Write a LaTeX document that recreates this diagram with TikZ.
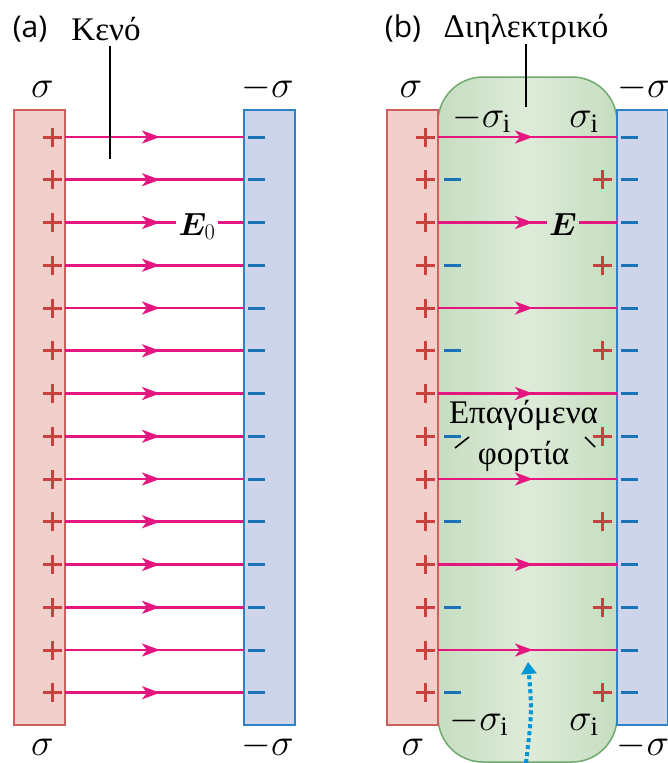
\RequirePackage{fix-cm}
\documentclass[tikz,border=0pt]{standalone}
\usepackage{bm}
\usepackage{fontspec}
\setmainfont{Liberation Serif}
\newfontfamily\panelfont{Open Sans}
\usetikzlibrary{arrows.meta,decorations.markings}

\definecolor{plusfill}{RGB}{241,208,203}
\definecolor{plusedge}{RGB}{205,95,95}
\definecolor{minusfill}{RGB}{206,213,235}
\definecolor{minusedge}{RGB}{45,130,200}
\definecolor{fieldcol}{RGB}{228,22,128}
\definecolor{pluscol}{RGB}{200,65,65}
\definecolor{minuscol}{RGB}{25,115,185}
\definecolor{dielfill}{RGB}{198,221,192}
\definecolor{diellight}{RGB}{222,235,217}
\definecolor{dieledge}{RGB}{110,170,110}
\definecolor{probecol}{RGB}{0,150,210}

\begin{document}
\begin{tikzpicture}[
  x=1pt, y=-1pt,
  plateplus/.style={draw=plusedge, fill=plusfill, line width=1.5pt, minimum width=51pt, minimum height=615pt, inner sep=0pt},
  plateminus/.style={draw=minusedge, fill=minusfill, line width=1.5pt, minimum width=51pt, minimum height=615pt, inner sep=0pt},
  dielectric/.style={draw=dieledge, line width=1.5pt, rounded corners=45pt, left color=dielfill, right color=dielfill, middle color=diellight, minimum width=179pt, minimum height=685pt, inner sep=0pt},
  fieldline/.style={color=fieldcol, line width=2.6pt},
  field/.style={fieldline, postaction={decorate}, decoration={markings, mark=at position #1 with {\arrow{Stealth[length=18pt,width=13pt,inset=5pt]}}}},
  field/.default=95pt,
  sig/.style={font=\fontsize{38}{42}\selectfont, inner sep=0pt, anchor=base},
  vec/.style={font=\fontsize{32}{36}\selectfont, inner xsep=2pt, inner ysep=0pt, anchor=base},
  greek/.style={font=\fontsize{33}{41}\selectfont, inner sep=0pt, align=center},
  panel/.style={font=\panelfont\fontsize{30}{34}\selectfont, inner sep=0pt, anchor=base},
  leader/.style={draw=black, line width=1.6pt},
  probe/.style={color=probecol, line width=4pt, dash pattern=on 4pt off 3pt, -{Triangle[length=12pt,width=15pt]}},
  plus/.pic={\draw[pluscol, line width=3pt] (-9.5,0) -- (9.5,0) (0,-9.5) -- (0,9.5);},
  minus/.pic={\draw[minuscol, line width=3pt] (-8.5,0) -- (8.5,0);}
]
\useasboundingbox (0,0) rectangle (668,763);

% (a) vacuum
\node[plateplus] (aplus) at (39.5,417.5) {};
\node[plateminus] (aminus) at (269.5,417.5) {};
\node[vec] (E0) at (197,235) {$\bm{E}_0$};
\foreach \k in {0,...,13}{
  \pgfmathsetmacro\y{137+42.75*\k}
  \coordinate (aL\k) at (65,\y);
  \coordinate (aR\k) at (244,\y);
  \pic at (52,\y) {plus};
  \pic at (256.5,\y) {minus};
  \ifnum\k=2\else \draw[field] (aL\k) -- (aR\k);\fi
}
\draw[field] (aL2) -- (aL2 -| E0.west);
\draw[fieldline] (aR2 -| E0.east) -- (aR2);

\node[panel] (pa) at (30,37) {(a)};
\node[greek, anchor=base] (keno) at (106,40) {Κενό};
\coordinate (kenotip) at (110,159);
\draw[leader, shorten <=5pt] (keno.south -| kenotip) -- (kenotip);

\node[sig] (sa1) at (42.5,97) {$\sigma$};
\node[sig] (sa2) at (267.5,97) {$-\sigma$};
\node[sig] (sa3) at (42.5,755) {$\sigma$};
\node[sig] (sa4) at (267.5,755) {$-\sigma$};

% (b) dielectric
\node[dielectric] (diel) at (527.5,419.5) {};
\node[plateplus] (bplus) at (412.5,417.5) {};
\node[plateminus] (bminus) at (642.5,417.5) {};
\node[vec] (E) at (563,235) {$\bm{E}$};
\foreach \k in {0,...,13}{
  \pgfmathsetmacro\y{137+42.75*\k}
  \coordinate (bL\k) at (438,\y);
  \coordinate (bR\k) at (617,\y);
  \pic at (425,\y) {plus};
  \pic at (629,\y) {minus};
  \ifodd\k
    \pic at (452.5,\y) {minus};
    \pic at (602,\y) {plus};
  \else
    \ifnum\k=2\else \draw[field] (bL\k) -- (bR\k);\fi
  \fi
}
\draw[field] (bL2) -- (bL2 -| E.west);
\draw[fieldline] (bR2 -| E.east) -- (bR2);

\node[panel] (pb) at (403,37) {(b)};
\node[greek, anchor=base] (dieltext) at (526,37) {Διηλεκτρικό};
\coordinate (dieltip) at (526,107);
\draw[leader] (dieltext.south -| dieltip) -- (dieltip);

\node[sig] (sb1) at (411,97) {$\sigma$};
\node[sig] (sb2) at (643.5,97) {$-\sigma$};
\node[sig] (sb3) at (413,755) {$\sigma$};
\node[sig] (sb4) at (643,755) {$-\sigma$};
\node[sig] (si1) at (481.5,127) {$-\sigma_{\mathrm{i}}$};
\node[sig] (si2) at (584,127) {$\sigma_{\mathrm{i}}$};
\node[sig] (si3) at (479,730) {$-\sigma_{\mathrm{i}}$};
\node[sig] (si4) at (584,730) {$\sigma_{\mathrm{i}}$};

\node[greek] (induced) at (523.5,436) {Επαγόμενα\\φορτία};
\coordinate (indLa) at (455,448);
\coordinate (indLb) at (469,437);
\coordinate (indRa) at (585,437);
\coordinate (indRb) at (595,447);
\draw[leader] (indLa) -- (indLb);
\draw[leader] (indRa) -- (indRb);

\coordinate (probefoot) at (526,763);
\coordinate (probetip) at (528,662);
\draw[probe] (probefoot) .. controls (532,712) .. (probetip);
\end{tikzpicture}
\end{document}
